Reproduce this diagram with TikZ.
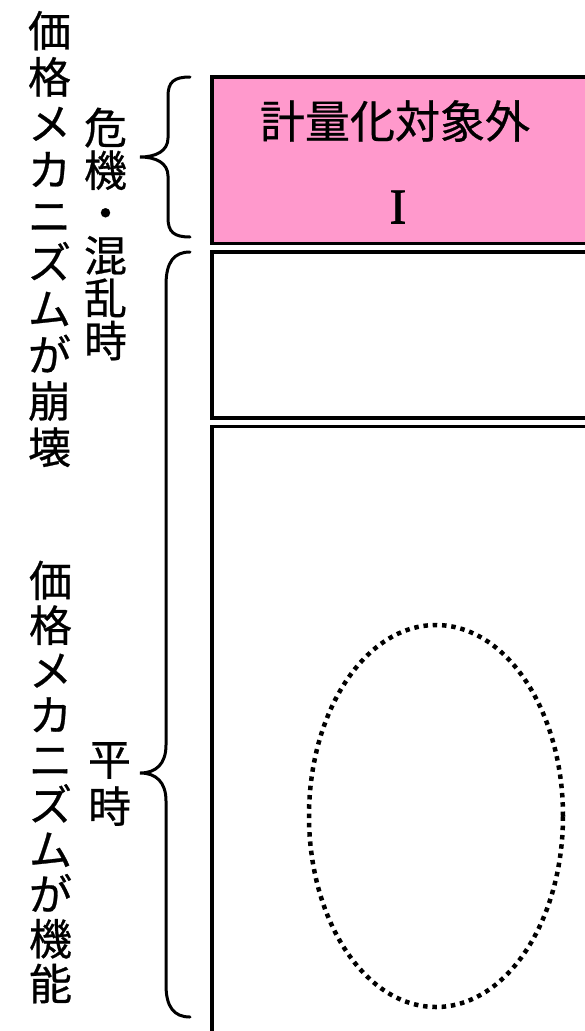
\documentclass[tikz,border=0pt]{standalone}
\usepackage{fontspec}
\setmainfont[FakeBold=0.6]{Noto Sans CJK JP}
\newfontfamily\romanfont[FakeBold=1.5]{Liberation Serif}
\usetikzlibrary{shapes.geometric}
\definecolor{boxpink}{HTML}{FF99CC}
\tikzset{
  panel/.style={draw=black, line width=3.6pt, anchor=north west, inner sep=0pt, minimum width=400pt},
  vlabel/.style={inner sep=0pt, align=center, text width=1em},
  brace/.style={draw=black, line width=3pt, line cap=round},
  oval/.style={draw=black, ellipse, line width=4.5pt, dash pattern=on 4.5pt off 4.8pt, inner sep=0pt}
}
\begin{document}
\begin{tikzpicture}[x=1pt, y=-1pt]
\useasboundingbox (0,0) rectangle (585,1031);
\clip (0,0) rectangle (585,1031);
% panels
\node[panel, fill=boxpink, minimum height=166.5pt] (p1) at (210,75) {};
\node[panel, minimum height=166pt] (p2) at (210,250) {};
\node[panel, minimum height=630pt] (p3) at (210,424.5) {};
% texts in pink panel
\node[inner sep=0pt, font=\fontsize{45}{45}\selectfont] (t1) at (395,121) {計量化対象外};
\node[inner sep=0pt, font=\romanfont\fontsize{50}{50}\selectfont] (t2) at (398,207) {I};
% ellipse
\node[oval, minimum width=254pt, minimum height=382pt] (ov) at (436,816) {};
% braces
\coordinate (b1t) at (190,77);
\coordinate (b1b) at (190,237);
\coordinate (b1m) at (140,157);
\draw[brace] (b1t) .. controls (174,77) and (168,82) .. (168,96) -- (168,138)
  .. controls (168,151) and (156,157) .. (b1m)
  .. controls (156,157) and (168,163) .. (168,176) -- (168,218)
  .. controls (168,232) and (174,237) .. (b1b);
\coordinate (b2t) at (190,252);
\coordinate (b2b) at (190,1017);
\coordinate (b2m) at (140,773);
\draw[brace] (b2t) .. controls (174,252) and (166,262) .. (166,285) -- (166,745)
  .. controls (166,764) and (156,773) .. (b2m)
  .. controls (156,773) and (166,782) .. (166,801) -- (166,985)
  .. controls (166,1007) and (174,1017) .. (b2b);
% vertical labels
\node[vlabel, font=\fontsize{43}{46.3}\selectfont] (l1) at (33,239) {価\\格\\メ\\カ\\ニ\\ズ\\ム\\が\\崩\\壊};
\node[vlabel, font=\fontsize{43}{44.8}\selectfont] (l2) at (34,782) {価\\格\\メ\\カ\\ニ\\ズ\\ム\\が\\機\\能};
\node[vlabel, font=\fontsize{43}{42.6}\selectfont] (l3) at (89,234) {危\\機\\・\\混\\乱\\時};
\node[vlabel, font=\fontsize{43}{47}\selectfont] (l4) at (93,784) {平\\時};
\end{tikzpicture}
\end{document}
